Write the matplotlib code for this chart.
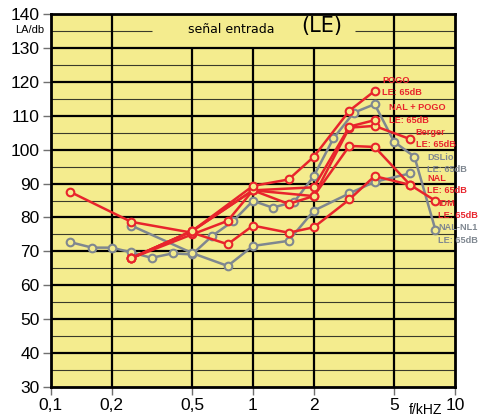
import matplotlib
matplotlib.use("Agg")
import matplotlib.pyplot as plt

plt.rcParams["font.family"] = ["DejaVu Sans"]
NARROW = ["Liberation Sans Narrow", "Liberation Sans", "DejaVu Sans"]

# frequencies (kHz) and levels (dB) per fitting rule
pogo_f = [0.25, 0.5, 1, 1.5, 2, 3, 4]
pogo_db = [68.0, 76.0, 89.3, 91.2, 97.9, 111.5, 117.3]

nalpogo_f = [0.25, 0.5, 1, 2, 3, 4]
nalpogo_db = [68.0, 76.0, 88.0, 88.9, 106.8, 108.7]

berger_f = [0.25, 0.5, 0.75, 1, 1.5, 2, 3, 4, 6]
berger_db = [68.0, 75.0, 79.0, 88.0, 84.0, 86.3, 106.5, 107.0, 103.1]

nal_f = [0.125, 0.25, 0.5, 0.75, 1, 1.5, 2, 3, 4, 6]
nal_db = [87.5, 78.7, 75.5, 72.1, 77.6, 75.5, 77.1, 85.3, 92.2, 89.6]

idm_f = [0.25, 0.5, 1, 2, 3, 4, 6, 8]
idm_db = [68.0, 76.0, 88.0, 86.3, 101.1, 100.8, 89.6, 84.9]

dslio_f = [0.25, 0.5, 0.75, 1, 1.5, 2, 3, 4, 6]
dslio_db = [77.6, 69.5, 65.7, 71.6, 73.1, 82.0, 87.1, 90.5, 93.0]

nalnl1_f = [0.125, 0.16, 0.2, 0.25, 0.315, 0.4, 0.5, 0.63, 0.8, 1, 1.25, 1.6,
            2, 2.5, 3.15, 4, 5, 6.3, 8]
nalnl1_db = [72.7, 71.1, 71.1, 69.7, 68.1, 69.4, 69.1, 74.6, 79.0, 84.9, 82.9,
             84.6, 92.2, 103.3, 110.9, 113.4, 102.3, 97.9, 76.3]

xticks = [0.1, 0.2, 0.5, 1, 2, 5, 10]
xticklabels = ["0,1", "0,2", "0,5", "1", "2", "5", "10"]
yticks = list(range(30, 150, 10))

RED = "#e8242c"
GREY = "#7f8790"
YELLOW = "#f4ec8e"

fig = plt.figure(figsize=(4.8, 4.2), dpi=100)
ax = fig.add_axes([0.106, 0.0786, 0.842, 0.888])
ax.set_facecolor(YELLOW)
ax.set_xscale("log")
ax.set_xlim(0.1, 10)
ax.set_ylim(30, 140)

# grid: thick lines every 10 dB, thin every 5 dB
for y in range(40, 140, 10):
    ax.axhline(y, color="black", lw=1.6, zorder=1)
for y in range(35, 130, 10):
    ax.axhline(y, color="#3a3a2a", lw=0.8, zorder=1)
ax.hlines(135, 0.1, 0.316, color="#3a3a2a", lw=0.8, zorder=1)
ax.hlines(135, 3.2, 10, color="#3a3a2a", lw=0.8, zorder=1)
for x in [0.2, 5]:
    ax.axvline(x, color="black", lw=1.6, zorder=1)
for x in [0.5, 1, 2]:
    ax.vlines(x, 30, 130, color="black", lw=1.6, zorder=1)

for s in ax.spines.values():
    s.set_linewidth(2)

series = [
    (nalnl1_f, nalnl1_db, GREY),
    (dslio_f, dslio_db, GREY),
    (idm_f, idm_db, RED),
    (berger_f, berger_db, RED),
    (nalpogo_f, nalpogo_db, RED),
    (nal_f, nal_db, RED),
    (pogo_f, pogo_db, RED),
]
for fx, db, c in series:
    ax.plot(fx, db, color=c, lw=1.8, marker="o", ms=5.5, mew=1.5,
            mfc=YELLOW, mec=c, zorder=3)

labels = [
    ("POGO", 4.35, 120.5, RED),
    ("NAL + POGO", 4.71, 112.3, RED),
    ("Berger", 6.4, 105.2, RED),
    ("DSLio", 7.3, 97.8, GREY),
    ("NAL", 7.3, 91.6, RED),
    ("IDM", 8.25, 84.2, RED),
    ("NAL-NL1", 8.25, 76.9, GREY),
]
for name, lx, ly, c in labels:
    ax.text(lx, ly, name, color=c, fontsize=6.6, fontweight="bold",
            family=NARROW, va="center", ha="left", zorder=4, clip_on=False)
    ax.text(lx, ly - 3.6, "LE: 65dB", color=c, fontsize=6.6,
            fontweight="bold", family=NARROW, va="center", ha="left",
            zorder=4, clip_on=False)

ax.text(0.78, 135.3, "señal entrada", fontsize=9, ha="center",
        va="center", zorder=4)
ax.text(2.2, 136.4, "(LE)", fontsize=15, ha="center", va="center", zorder=4)

ax.set_xticks(xticks)
ax.set_xticklabels(xticklabels, family=NARROW)
ax.minorticks_off()
ax.set_yticks(yticks)
ax.set_yticklabels([str(v) for v in yticks], family=NARROW)
ax.tick_params(axis="both", direction="out", length=6, width=1,
               color="#707070", labelsize=12.5, pad=2)

fig.text(30 / 480, 1 - 30 / 420, "LA/db", fontsize=8, family=NARROW,
         ha="center", va="center")
fig.text(425 / 480, 1 - 410 / 420, "f/kHZ", fontsize=10, family=NARROW,
         ha="center", va="center")

fig.savefig("out.png", dpi=100)
